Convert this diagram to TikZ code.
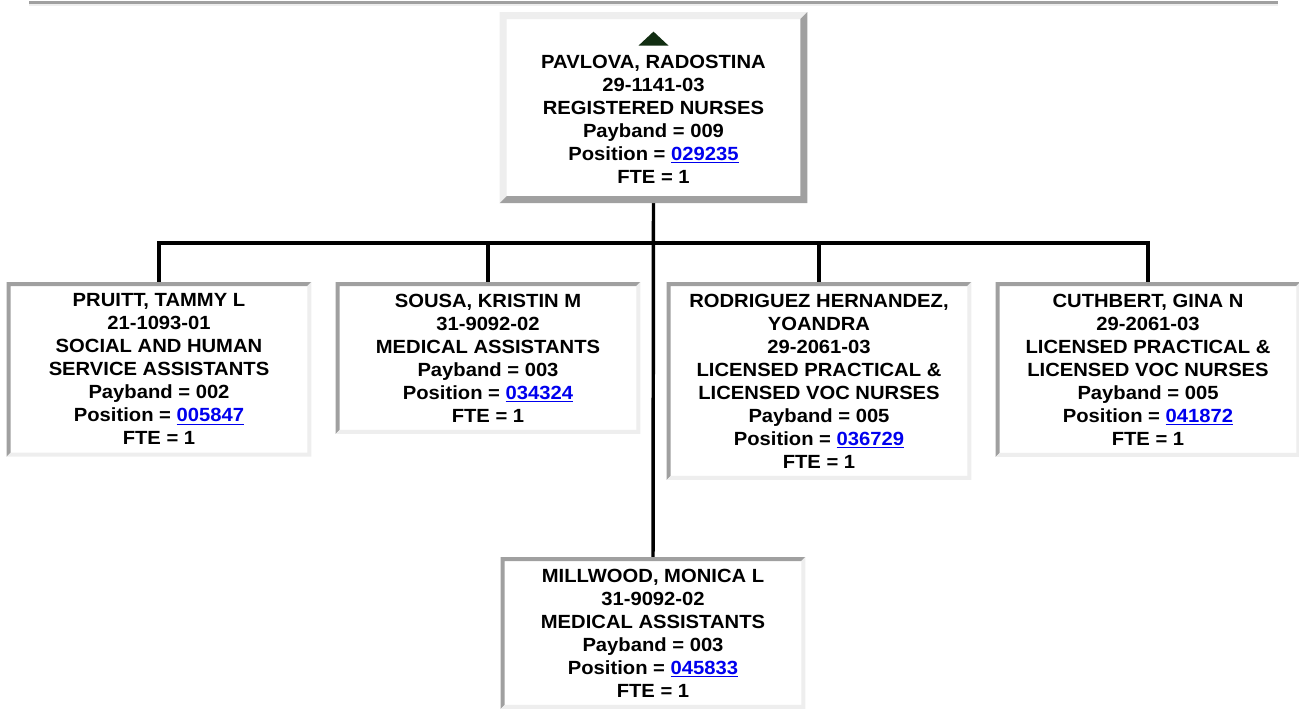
\documentclass[tikz,border=0pt]{standalone}
\usepackage{fontspec}
\setmainfont{Liberation Sans}[FakeStretch=1.06]
\usepackage{tikz}
\usetikzlibrary{positioning,calc}
\definecolor{OrgFrameDark}{RGB}{160,160,160}
\definecolor{OrgFrameLight}{RGB}{238,238,238}
\definecolor{OrgLink}{RGB}{0,0,238}
\definecolor{OrgArrow}{RGB}{18,46,18}
\newcommand{\poslink}[1]{\textcolor{OrgLink}{\underline{#1}}}
% raised frame: light top/left, dark bottom/right
\newcommand{\frameout}[2]{%
  \fill[OrgFrameLight] (#1.south west) -- (#1.north west) -- (#1.north east)
    -- ($(#1.north east)+(-#2,#2)$) -- ($(#1.north west)+(#2,#2)$) -- ($(#1.south west)+(#2,-#2)$) -- cycle;
  \fill[OrgFrameDark] (#1.north east) -- (#1.south east) -- (#1.south west)
    -- ($(#1.south west)+(#2,-#2)$) -- ($(#1.south east)+(-#2,-#2)$) -- ($(#1.north east)+(-#2,#2)$) -- cycle;}
% sunken frame: dark top/left, light bottom/right
\newcommand{\framein}[2]{%
  \fill[OrgFrameDark] (#1.south west) -- (#1.north west) -- (#1.north east)
    -- ($(#1.north east)+(-#2,#2)$) -- ($(#1.north west)+(#2,#2)$) -- ($(#1.south west)+(#2,-#2)$) -- cycle;
  \fill[OrgFrameLight] (#1.north east) -- (#1.south east) -- (#1.south west)
    -- ($(#1.south west)+(#2,-#2)$) -- ($(#1.south east)+(-#2,-#2)$) -- ($(#1.north east)+(-#2,#2)$) -- cycle;}

\begin{document}
\begin{tikzpicture}[x=0.75pt,y=-0.75pt,
    orgtext/.style={align=center,font=\fontsize{14.3pt}{17.25pt}\selectfont\bfseries,text=black},
    headbox/.style={orgtext,fill=white,minimum width=230.25pt,inner ysep=14.5pt,anchor=north},
    staffbox/.style={orgtext,fill=white,minimum width=228pt,inner ysep=8.6pt,anchor=north},
    orgline/.style={line width=2.6pt}]
  \useasboundingbox (0,0) rectangle (1299,708);

  % top rule
  \fill[OrgFrameDark] (29,1) rectangle (1278,4);
  \fill[OrgFrameLight] (29,4) rectangle (1278,5.5);

  % supervisor
  \node[headbox] (pavlova) at (653.5,12) {%
    \tikz\fill[OrgArrow] (0pt,0pt) -- (22.5pt,0pt) -- (11.25pt,10.5pt) -- cycle;\\
    PAVLOVA, RADOSTINA\\ 29-1141-03\\ REGISTERED NURSES\\
    Payband = 009\\ Position = \poslink{029235}\\ FTE = 1};

  % staff
  \node[staffbox] (pruitt) at (159,282) {PRUITT, TAMMY L\\ 21-1093-01\\ SOCIAL AND HUMAN\\ SERVICE ASSISTANTS\\
    Payband = 002\\ Position = \poslink{005847}\\ FTE = 1};
  \node[staffbox] (sousa) at (488,282) {SOUSA, KRISTIN M\\ 31-9092-02\\ MEDICAL ASSISTANTS\\
    Payband = 003\\ Position = \poslink{034324}\\ FTE = 1};
  \node[staffbox] (rodriguez) at (819,282) {RODRIGUEZ HERNANDEZ,\\ YOANDRA\\ 29-2061-03\\ LICENSED PRACTICAL \&\\ LICENSED VOC NURSES\\
    Payband = 005\\ Position = \poslink{036729}\\ FTE = 1};
  \node[staffbox] (cuthbert) at (1148,282) {CUTHBERT, GINA N\\ 29-2061-03\\ LICENSED PRACTICAL \&\\ LICENSED VOC NURSES\\
    Payband = 005\\ Position = \poslink{041872}\\ FTE = 1};
  \node[staffbox] (millwood) at (653,557) {MILLWOOD, MONICA L\\ 31-9092-02\\ MEDICAL ASSISTANTS\\
    Payband = 003\\ Position = \poslink{045833}\\ FTE = 1};

  % connectors
  \coordinate (bus) at (653.5,243);
  \draw[orgline] (pavlova.south) -- (millwood.north);
  \draw[orgline] (pruitt.north) |- (bus) -| (cuthbert.north);
  \draw[orgline] (sousa.north) -- (sousa.north |- bus);
  \draw[orgline] (rodriguez.north) -- (rodriguez.north |- bus);

  % frames
  \frameout{pavlova}{7}
  \foreach \n in {pruitt,sousa,rodriguez,cuthbert,millwood}
    {\framein{\n}{4}}
\end{tikzpicture}
\end{document}
